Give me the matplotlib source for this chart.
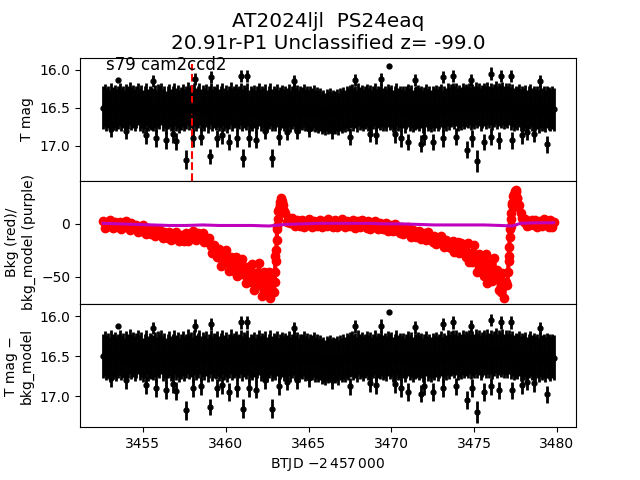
import numpy as np
import matplotlib
matplotlib.use("Agg")
import matplotlib.pyplot as plt

# light curve cadence (days, BTJD - 2457000)
t_start = 3452.6
t_step = 0.1
n_pts = 273

# T mag of the main band, one row per day
mag = [
    16.50, 16.47, 16.52, 16.49, 16.54, 16.46, 16.51, 16.48, 16.53, 16.50,
    16.46, 16.52, 16.49, 16.55, 16.47, 16.50, 16.44, 16.51, 16.48, 16.53,
    16.49, 16.45, 16.52, 16.48, 16.55, 16.50, 16.46, 16.53, 16.49, 16.51,
    16.52, 16.48, 16.54, 16.47, 16.50, 16.45, 16.53, 16.49, 16.56, 16.50,
    16.47, 16.53, 16.50, 16.46, 16.52, 16.48, 16.55, 16.51, 16.47, 16.53,
    16.50, 16.44, 16.51, 16.48, 16.54, 16.46, 16.52, 16.49, 16.45, 16.53,
    16.48, 16.52, 16.47, 16.55, 16.50, 16.45, 16.53, 16.49, 16.51, 16.47,
    16.53, 16.49, 16.46, 16.52, 16.48, 16.55, 16.50, 16.44, 16.52, 16.49,
    16.47, 16.52, 16.50, 16.45, 16.53, 16.48, 16.51, 16.46, 16.54, 16.50,
    16.52, 16.48, 16.55, 16.50, 16.46, 16.53, 16.49, 16.52, 16.47, 16.54,
    16.50, 16.46, 16.53, 16.49, 16.52, 16.47, 16.55, 16.51, 16.48, 16.53,
    16.49, 16.52, 16.47, 16.54, 16.50, 16.46, 16.52, 16.48, 16.55, 16.50,
    16.51, 16.47, 16.53, 16.49, 16.55, 16.50, 16.52, 16.48, 16.54, 16.51,
    16.55, 16.52, 16.57, 16.54, 16.58, 16.53, 16.56, 16.52, 16.57, 16.54,
    16.56, 16.53, 16.58, 16.52, 16.55, 16.51, 16.54, 16.49, 16.52, 16.48,
    16.47, 16.52, 16.49, 16.54, 16.46, 16.51, 16.48, 16.53, 16.50, 16.47,
    16.52, 16.48, 16.54, 16.50, 16.46, 16.53, 16.49, 16.51, 16.47, 16.52,
    16.49, 16.53, 16.47, 16.51, 16.48, 16.54, 16.50, 16.46, 16.52, 16.49,
    16.53, 16.49, 16.55, 16.50, 16.47, 16.52, 16.48, 16.54, 16.51, 16.50,
    16.48, 16.52, 16.49, 16.55, 16.51, 16.47, 16.53, 16.50, 16.54, 16.49,
    16.52, 16.48, 16.53, 16.50, 16.47, 16.54, 16.49, 16.52, 16.46, 16.51,
    16.47, 16.45, 16.50, 16.46, 16.52, 16.48, 16.51, 16.46, 16.50, 16.47,
    16.49, 16.45, 16.51, 16.47, 16.50, 16.44, 16.49, 16.46, 16.52, 16.48,
    16.46, 16.50, 16.44, 16.49, 16.45, 16.51, 16.47, 16.43, 16.50, 16.46,
    16.48, 16.44, 16.50, 16.46, 16.49, 16.45, 16.51, 16.47, 16.52, 16.49,
    16.51, 16.47, 16.53, 16.49, 16.52, 16.48, 16.54, 16.50, 16.47, 16.52,
    16.49, 16.53, 16.50, 16.55, 16.48, 16.52, 16.50, 16.54, 16.49, 16.51,
    16.53, 16.50, 16.52,
]
mag_err = 0.28

# points outside the main band
out_t = [3453.5, 3469.85,
         3455.6, 3458.15, 3459.1, 3460.9, 3461.3, 3464.1, 3467.8, 3469.4,
         3471.4, 3473.1, 3473.75, 3474.8, 3476.0, 3476.6, 3477.2, 3479.0,
         3453.1, 3454.0, 3455.2, 3455.8, 3456.4, 3456.8, 3457.0, 3458.0,
         3458.5, 3459.5, 3459.8, 3460.2, 3460.7, 3461.4, 3461.8, 3462.4,
         3463.2, 3463.7, 3464.3, 3465.0, 3466.4, 3467.5, 3468.7, 3469.1,
         3470.2, 3470.6, 3471.0, 3471.8, 3472.0, 3472.5, 3473.1, 3473.9,
         3474.55, 3474.9, 3475.6, 3476.0, 3476.5, 3477.3, 3477.9, 3478.2,
         3478.6, 3479.4,
         3457.6, 3459.05, 3461.05, 3462.8, 3475.2]
out_mag = [16.13, 15.95,
           16.15, 16.12, 16.10, 16.08, 16.08, 16.15, 16.13, 16.12,
           16.14, 16.10, 16.08, 16.13, 16.05, 16.08, 16.08, 16.15,
           16.78, 16.80, 16.86, 16.90, 16.93, 16.85, 16.94, 16.90,
           16.88, 16.90, 16.86, 16.95, 16.90, 16.90, 16.92, 16.80,
           16.88, 16.82, 16.80, 16.78, 16.80, 16.88, 16.84, 16.86,
           16.85, 16.90, 16.95, 16.97, 16.88, 16.95, 16.90, 16.88,
           17.05, 16.90, 16.95, 16.88, 16.93, 16.93, 16.86, 16.82,
           16.84, 16.98,
           17.18, 17.14, 17.16, 17.16, 17.20]
out_err = [0.02, 0.02,
           0.08, 0.08, 0.08, 0.08, 0.08, 0.08, 0.08, 0.08,
           0.08, 0.08, 0.08, 0.08, 0.08, 0.08, 0.08, 0.08,
           0.11, 0.11, 0.11, 0.11, 0.11, 0.11, 0.11, 0.11,
           0.11, 0.11, 0.11, 0.11, 0.11, 0.11, 0.11, 0.11,
           0.11, 0.11, 0.11, 0.11, 0.11, 0.11, 0.11, 0.11,
           0.11, 0.11, 0.11, 0.11, 0.11, 0.11, 0.11, 0.11,
           0.11, 0.11, 0.11, 0.11, 0.11, 0.11, 0.11, 0.11,
           0.11, 0.11,
           0.12, 0.10, 0.12, 0.12, 0.14]

# background flux, same cadence
bkg = [
    3.0, -4.0, 1.0, -2.0, 4.0, -1.0, -4.0, 2.0, 0.0, -3.0,
    2.0, -5.0, 0.0, -3.0, 2.5, -2.5, -5.5, 0.5, -1.5, -4.5,
    -1.0, -8.0, -3.5, -6.5, -1.5, -6.5, -10.0, -4.0, -6.5, -10.0,
    -4.5, -11.5, -6.5, -9.5, -4.5, -10.0, -13.5, -7.5, -10.0, -13.5,
    -8.0, -15.0, -10.0, -13.0, -8.0, -13.0, -16.5, -10.5, -13.0, -16.0,
    -9.0, -16.0, -10.0, -13.0, -7.0, -12.0, -15.0, -9.0, -11.0, -14.0,
    -9.0, -17.0, -13.0, -17.0, -13.0, -21.0, -27.0, -20.0, -24.0, -31.0,
    -24.0, -40.0, -29.0, -36.0, -25.0, -36.0, -44.0, -31.0, -37.0, -44.0,
    -31.0, -49.0, -39.0, -47.0, -33.0, -46.0, -56.0, -41.0, -46.0, -55.0,
    -38.0, -62.0, -46.0, -58.0, -37.0, -56.0, -68.0, -45.0, -53.0, -65.0,
    -45.0, -70.0, -52.0, -64.0, -30.0, -2.0, 14.0, 21.0, 20.0, 12.0,
    10.0, 2.0, 6.0, 1.0, 6.0, 1.0, -2.0, 4.0, 1.0, -2.0,
    4.0, -3.0, 2.0, -1.0, 5.0, 0.0, -3.0, 3.0, 1.0, -2.0,
    -1.0, 4.0, -3.0, 1.0, 3.0, -2.0, 5.0, 0.0, 2.0, -3.0,
    4.0, -3.0, 2.0, -1.0, 5.0, 0.0, -3.0, 3.0, 1.0, -2.0,
    -1.5, 3.5, -3.5, 0.5, 2.5, -2.5, 4.0, -1.0, 1.0, -4.0,
    2.5, -4.5, 0.5, -2.5, 3.0, -2.0, -5.0, 1.0, -1.5, -5.0,
    -4.5, 0.5, -7.0, -3.0, -1.5, -7.0, 0.0, -5.5, -3.5, -9.0,
    -2.5, -10.0, -4.5, -8.0, -3.0, -8.5, -12.0, -5.5, -8.5, -12.0,
    -11.5, -6.5, -14.0, -10.5, -9.0, -15.0, -8.0, -14.0, -12.5, -17.5,
    -11.5, -19.0, -13.5, -17.0, -11.0, -17.5, -22.0, -15.0, -17.5, -22.0,
    -22.5, -16.0, -26.5, -21.0, -17.0, -27.0, -18.0, -25.5, -22.5, -31.0,
    -18.0, -36.0, -27.0, -36.0, -20.0, -35.0, -45.0, -28.0, -35.0, -45.0,
    -49.0, -28.0, -56.0, -42.0, -36.0, -54.0, -32.0, -48.0, -43.0, -62.0,
    -64.0, -46.0, -70.0, -55.0, -58.0, -30.0, -2.0, 18.0, 28.0, 32.0,
    24.0, 18.0, 10.0, 6.0, 2.0, 5.0, -2.0, 3.0, -1.0, 4.0,
    -1.0, 4.0, -3.0, 1.0, 3.0, -2.0, 5.0, 0.0, 2.0, -3.0,
    4.0, -3.0, 2.0,
]

# extra samples on the two fast rises
ramp_t = [3462.95, 3462.98, 3463.02, 3463.05, 3463.08, 3463.12, 3463.15,
          3463.18, 3463.25, 3463.32, 3463.37, 3463.45,
          3477.05, 3477.08, 3477.12, 3477.15, 3477.18, 3477.22, 3477.25,
          3477.28, 3477.35, 3477.45, 3477.55, 3477.6, 3477.65]
ramp_bkg = [-55, -45, -35, -25, -15, -5, 5, 12, 18, 24, 22, 18,
            -45, -35, -22, -12, -5, 5, 10, 20, 26, 31, 30, 24, 16]

# background model
t_model = [3452.6, 3453.6, 3454.6, 3455.6, 3456.6, 3457.6, 3458.6, 3459.6,
           3460.6, 3461.6, 3462.6, 3463.6, 3464.6, 3465.6, 3466.6, 3467.6,
           3468.6, 3469.6, 3470.6, 3471.6, 3472.6, 3473.6, 3474.6, 3475.6,
           3476.6, 3477.3, 3477.8, 3478.6, 3479.8]
bkg_model = [0.5, 0.0, -0.5, -1.0, -1.5, -1.5, -1.0, -1.5, -1.5, -1.5,
             -2.0, -0.5, 0.0, 0.5, 0.5, 0.5, 0.5, 0.0, 0.0, -0.5,
             -1.0, -1.0, -1.0, -1.0, -1.5, -2.0, 0.5, 1.0, 1.0]

t_disc = 3457.95
label = "s79 cam2ccd2"
title = "AT2024ljl  PS24eaq\n20.91r-P1 Unclassified z= -99.0"

t = t_start + t_step * np.arange(n_pts)

# background samples in time order
tb = np.concatenate([t, ramp_t])
fb = np.concatenate([bkg, ramp_bkg])
order = np.argsort(tb)
tb, fb = tb[order], fb[order]

fig, axes = plt.subplots(3, 1, sharex=True, figsize=(6.4, 4.8))
fig.subplots_adjust(hspace=0)
ax1, ax2, ax3 = axes

for ax in (ax1, ax3):
    ax.errorbar(t, mag, yerr=mag_err, fmt="o", color="k", ms=3.5, elinewidth=2)
    ax.errorbar(out_t, out_mag, yerr=out_err, fmt="o", color="k", ms=3.5,
                elinewidth=2)

ax1.axvline(t_disc, ymax=0.95, color="r", ls="--")
ax1.text(3452.75, 16.0, label, fontsize=12)
ax1.set_ylim(17.46, 15.84)
ax1.set_ylabel("T mag")
ax1.set_title(title, fontsize=14.4)

ax2.plot(tb, fb, "o-", color="r", ms=6, lw=3)
ax2.plot(t_model, bkg_model, color="m", lw=2.2)
ax2.set_ylim(-75.5, 40.6)
ax2.set_ylabel("Bkg (red)/\nbkg_model (purple)")

ax3.set_ylim(17.39, 15.85)
ax3.set_ylabel("T mag \u2212\nbkg_model")
ax3.set_xlabel(r"BTJD $-2\,457\,000$")
ax3.set_xlim(3451.2, 3481.15)

for ax in (ax1, ax2):
    ax.tick_params(axis="x", bottom=False)

fig.savefig("out.png", dpi=100)
